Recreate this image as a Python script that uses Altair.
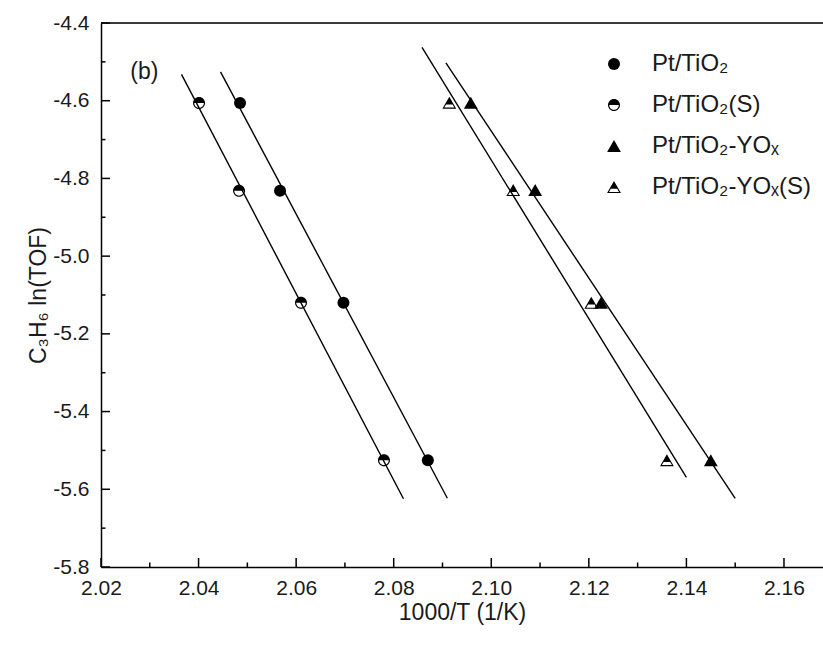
import altair as alt
import pandas as pd

# ---------------- data ----------------
series_names = ["Pt/TiO₂", "Pt/TiO₂(S)", "Pt/TiO₂-YOₓ", "Pt/TiO₂-YOₓ(S)"]

x_pt_tio2 = [2.0485, 2.0567, 2.0697, 2.0870]
y_pt_tio2 = [-4.606, -4.832, -5.120, -5.525]

x_pt_tio2_s = [2.0401, 2.0483, 2.0610, 2.0780]
y_pt_tio2_s = [-4.606, -4.832, -5.120, -5.525]

x_pt_tio2_yox = [2.0958, 2.1090, 2.1225, 2.1450]
y_pt_tio2_yox = [-4.605, -4.830, -5.120, -5.525]

x_pt_tio2_yox_s = [2.0914, 2.1045, 2.1205, 2.1360]
y_pt_tio2_yox_s = [-4.605, -4.830, -5.120, -5.525]

# x extent of each fitted line
fit_extents = [[2.0445, 2.0910], [2.0365, 2.0820], [2.0907, 2.1500], [2.0858, 2.1400]]

x_major_ticks = [2.02, 2.04, 2.06, 2.08, 2.10, 2.12, 2.14, 2.16]
x_minor_ticks = [2.03, 2.05, 2.07, 2.09, 2.11, 2.13, 2.15]
y_major_ticks = [-4.4, -4.6, -4.8, -5.0, -5.2, -5.4, -5.6, -5.8]
y_minor_ticks = [-4.5, -4.7, -4.9, -5.1, -5.3, -5.5, -5.7]

x_domain = [2.02, 2.168]
y_domain = [-5.8, -4.4]

panel_label = "(b)"
panel_label_pos = [2.026, -4.525]

# ---------------- build table ----------------
xs_all = [x_pt_tio2, x_pt_tio2_s, x_pt_tio2_yox, x_pt_tio2_yox_s]
ys_all = [y_pt_tio2, y_pt_tio2_s, y_pt_tio2_yox, y_pt_tio2_yox_s]
rows = []
for name, xs, ys in zip(series_names, xs_all, ys_all):
    for xv, yv in zip(xs, ys):
        rows.append({"series": name, "x": xv, "y": yv})
df = pd.DataFrame(rows)

# ---------------- styles ----------------
FONT = "Liberation Sans"
W, H = 722, 544
TXT = "#1a1a1a"

half_circle = ("M -1 0 A 1 1 0 0 1 1 0 Z "
               "M 1 0 A 1 1 0 0 1 -1 0 L -0.8 0 A 0.8 0.8 0 0 0 0.8 0 Z")
full_triangle = "M 0 -1 L 1.15 1 L -1.15 1 Z"
half_triangle = ("M 0 -1 L 0.7475 0.3 L -0.7475 0.3 Z "
                 "M -0.7475 0.3 L 0.7475 0.3 L 1.15 1 L -1.15 1 Z "
                 "M -0.5375 0.3 L -0.8365 0.82 L 0.8365 0.82 L 0.5375 0.3 Z")
shape_range = ["circle", half_circle, full_triangle, half_triangle]

xscale = alt.Scale(domain=x_domain, nice=False, zero=False)
yscale = alt.Scale(domain=y_domain, nice=False, zero=False)

x_axis = alt.Axis(title="1000/T (1/K)", values=x_major_ticks, format=".2f",
                  ticks=False, grid=False, domainColor="black", domainWidth=1.5,
                  labelFlush=False, labelFontSize=21, labelColor=TXT, labelPadding=10,
                  titleFontSize=23, titleFontWeight="normal", titleColor=TXT,
                  titlePadding=3, labelFont=FONT, titleFont=FONT)
y_axis = alt.Axis(title="C₃H₆ ln(TOF)", values=y_major_ticks,
                  labelExpr="replace(format(datum.value, '.1f'), '\u2212', '-')",
                  ticks=False, grid=False, domainColor="black", domainWidth=1.5,
                  labelFlush=False, labelFontSize=21, labelColor=TXT, labelPadding=12,
                  titleFontSize=23, titleFontWeight="normal", titleColor=TXT,
                  titlePadding=2, labelFont=FONT, titleFont=FONT)

base = alt.Chart(df)

# points with legend (first layer, so its axes are used)
points = base.mark_point(filled=True, size=144, opacity=1, strokeWidth=0).encode(
    x=alt.X("x:Q", scale=xscale, axis=x_axis),
    y=alt.Y("y:Q", scale=yscale, axis=y_axis),
    shape=alt.Shape("series:N", scale=alt.Scale(domain=series_names, range=shape_range),
                    legend=alt.Legend(title=None, orient="none", legendX=501, legendY=29,
                                      symbolSize=144, symbolFillColor="black",
                                      symbolStrokeWidth=0, symbolStrokeColor="black",
                                      labelFontSize=24, labelFont=FONT, labelColor=TXT,
                                      labelOffset=26, rowPadding=17, padding=0)),
    color=alt.value("black"),
)

# fitted lines
lines = []
for name, ext in zip(series_names, fit_extents):
    lines.append(
        base.transform_filter(alt.datum.series == name)
        .transform_regression("x", "y", extent=ext)
        .mark_line(color="black", strokeWidth=1.4, clip=True)
        .encode(x=alt.X("x:Q", scale=xscale, axis=x_axis), y=alt.Y("y:Q", scale=yscale, axis=y_axis))
    )

tick_len_major, tick_len_minor = 9, 4.5
def xticks(vals, L):
    return alt.Chart(pd.DataFrame({"v": vals})).mark_rule(color="black", strokeWidth=1.5).encode(
        x=alt.X("v:Q", scale=xscale, axis=x_axis), y=alt.value(H), y2=alt.value(H - L))
def yticks(vals, L):
    return alt.Chart(pd.DataFrame({"v": vals})).mark_rule(color="black", strokeWidth=1.5).encode(
        y=alt.Y("v:Q", scale=yscale, axis=y_axis), x=alt.value(0), x2=alt.value(L))

top_border = alt.Chart(pd.DataFrame({"v": [y_domain[1]]})).mark_rule(color="black", strokeWidth=1.5).encode(
    y=alt.Y("v:Q", scale=yscale, axis=y_axis), x=alt.value(0), x2=alt.value(W))

label = alt.Chart(pd.DataFrame({"x": [panel_label_pos[0]], "y": [panel_label_pos[1]], "t": [panel_label]})).mark_text(
    align="left", baseline="middle", fontSize=23, font=FONT, color=TXT).encode(
    x=alt.X("x:Q", scale=xscale, axis=x_axis), y=alt.Y("y:Q", scale=yscale, axis=y_axis), text="t:N")

chart = alt.layer(points, *lines,
                  xticks(x_major_ticks, tick_len_major), xticks(x_minor_ticks, tick_len_minor),
                  yticks(y_major_ticks, tick_len_major), yticks(y_minor_ticks, tick_len_minor),
                  top_border, label).properties(
    width=W, height=H,
    autosize=alt.AutoSizeParams(type="none"),
    padding={"left": 101, "top": 23, "right": 0, "bottom": 78},
).configure_view(stroke=None).configure(background="white")

chart.save("out.html", embed_options={"renderer": "svg", "actions": False})
